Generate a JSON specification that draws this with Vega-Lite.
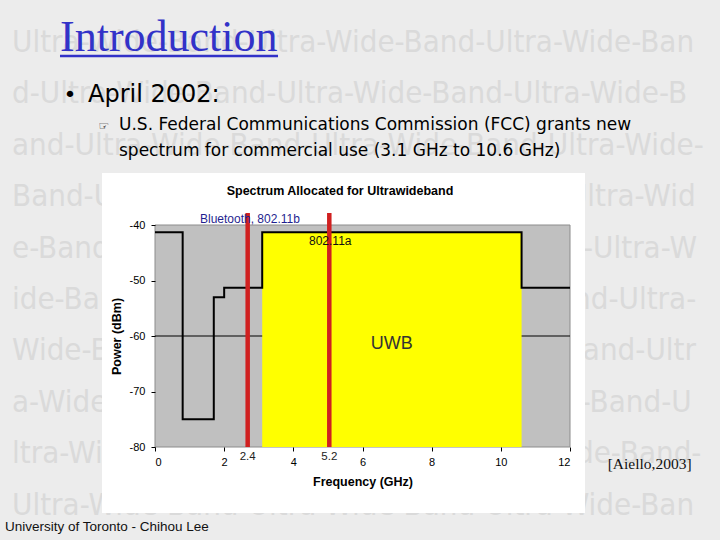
{
  "$schema": "https://vega.github.io/schema/vega-lite/v6.json",
  "width": 415,
  "height": 222,
  "autosize": {"type": "none"},
  "padding": {"left": 155, "top": 225, "right": 150, "bottom": 93},
  "background": "#ececec",
  "config": {"view": {"stroke": null}, "font": "Liberation Sans"},
  "datasets": {
    "watermark": [
      {"line": "Ultra-Wide-Band-Ultra-Wide-Band-Ultra-Wide-Ban", "f": -4.135, "p": -8.83},
      {"line": "d-Ultra-Wide-Band-Ultra-Wide-Band-Ultra-Wide-B", "f": -4.135, "p": -18.09},
      {"line": "and-Ultra-Wide-Band-Ultra-Wide-Band-Ultra-Wide-", "f": -4.135, "p": -27.37},
      {"line": "Band-Ultra-Wide-Band-Ultra-Wide-Band-Ultra-Wid", "f": -4.135, "p": -36.63},
      {"line": "e-Band-Ultra-Wide-Band-Ultra-Wide-Band-Ultra-W", "f": -4.135, "p": -45.89},
      {"line": "ide-Band-Ultra-Wide-Band-Ultra-Wide-Band-Ultra-", "f": -4.135, "p": -55.14},
      {"line": "Wide-Band-Ultra-Wide-Band-Ultra-Wide-Band-Ultr", "f": -4.135, "p": -64.4},
      {"line": "a-Wide-Band-Ultra-Wide-Band-Ultra-Wide-Band-U", "f": -4.135, "p": -73.68},
      {"line": "ltra-Wide-Band-Ultra-Wide-Band-Ultra-Wide-Band-", "f": -4.135, "p": -82.94},
      {"line": "Ultra-Wide-Band-Ultra-Wide-Band-Ultra-Wide-Ban", "f": -4.135, "p": -92.2}
    ],
    "panel": [{"f1": -1.533, "f2": 12.434, "p1": -91.89, "p2": -30.63}],
    "plotArea": [{"f1": 0, "f2": 12, "p1": -80, "p2": -40}],
    "gridline": [{"f1": 0, "f2": 12, "p": -60}],
    "uwb": [{"f1": 3.1, "f2": 10.6, "p1": -80, "p2": -41.3}],
    "mask": [
      {"frequency": 0, "power": -41.3},
      {"frequency": 0.8, "power": -75},
      {"frequency": 1.7, "power": -53},
      {"frequency": 2.0, "power": -51.3},
      {"frequency": 3.1, "power": -41.3},
      {"frequency": 10.6, "power": -51.3},
      {"frequency": 12, "power": -51.3}
    ],
    "bands": [
      {"band": "2.4", "f": 2.68, "p1": -80, "p2": -37.84, "lp": -82.34},
      {"band": "5.2", "f": 5.04, "p1": -80, "p2": -37.84, "lp": -82.34}
    ],
    "titleText": [{"text": "Introduction", "f": -2.747, "p": -8.65}],
    "titleUnderline": [{"f1": -2.747, "f2": 3.557, "p": -9.55}],
    "bullet": [{"text": "•", "f": -2.458, "p": -17.84}],
    "bulletText": [{"text": "April 2002:", "f": -1.937, "p": -17.84}],
    "subIcon": [{"text": "☞", "f": -1.475, "p": -22.88}],
    "subText": [
      {"text": "U.S. Federal Communications Commission (FCC) grants new", "f": -1.041, "p": -22.88},
      {"text": "spectrum for commercial use (3.1 GHz to 10.6 GHz)", "f": -1.041, "p": -27.57}
    ],
    "chartTitle": [{"text": "Spectrum Allocated for Ultrawideband", "f": 5.349, "p": -34.59}],
    "btLabel": [{"text": "Bluetooth, 802.11b", "f": 1.301, "p": -39.64}],
    "aLabel": [{"text": "802.11a", "f": 4.453, "p": -43.6}],
    "uwbLabel": [{"text": "UWB", "f": 6.845, "p": -62.34}],
    "footer": [{"text": "University of Toronto - Chihou Lee", "f": -4.337, "p": -95.14}],
    "cite": [{"text": "[Aiello,2003]", "f": 13.09, "p": -83.96}]
  },
  "layer": [
    {
      "data": {"name": "watermark"},
      "mark": {"type": "text", "font": "Liberation Sans Narrow, DejaVu Sans Condensed, sans-serif", "fontSize": 31, "color": "#dadada", "align": "left", "baseline": "alphabetic"},
      "encoding": {
        "x": {"field": "f", "type": "quantitative", "title": "Frequency (GHz)", "scale": {"domain": [0, 12], "nice": false, "zero": false},
          "axis": {"tickCount": 6, "zindex": 1, "domain": false, "grid": false, "labelFont": "Liberation Sans", "labelFontSize": 11, "labelColor": "#000", "tickColor": "#000", "tickSize": 4, "labelPadding": 5, "titleFont": "Liberation Sans", "titleFontSize": 12.5, "titleFontWeight": "bold", "titleColor": "#000", "titlePadding": 8}},
        "y": {"field": "p", "type": "quantitative", "title": "Power (dBm)", "scale": {"domain": [-80, -40], "nice": false, "zero": false},
          "axis": {"tickCount": 4, "zindex": 1, "domain": false, "grid": false, "labelExpr": "toString(datum.value)", "labelFont": "Liberation Sans", "labelFontSize": 11, "labelColor": "#000", "tickColor": "#000", "tickSize": 4, "labelPadding": 6, "titleFont": "Liberation Sans", "titleFontSize": 12.5, "titleFontWeight": "bold", "titleColor": "#000", "titlePadding": 6}},
        "text": {"field": "line"}
      }
    },
    {
      "data": {"name": "panel"},
      "mark": {"type": "rect", "fill": "#ffffff"},
      "encoding": {
        "x": {"field": "f1", "type": "quantitative", "title": "Frequency (GHz)", "scale": {"domain": [0, 12], "nice": false, "zero": false}},
        "x2": {"field": "f2"},
        "y": {"field": "p1", "type": "quantitative", "title": "Power (dBm)", "scale": {"domain": [-80, -40], "nice": false, "zero": false}},
        "y2": {"field": "p2"}
      }
    },
    {
      "data": {"name": "plotArea"},
      "mark": {"type": "rect", "fill": "#c0c0c0", "stroke": "#8c8c8c", "strokeWidth": 1},
      "encoding": {
        "x": {"field": "f1", "type": "quantitative", "title": "Frequency (GHz)", "scale": {"domain": [0, 12], "nice": false, "zero": false}},
        "x2": {"field": "f2"},
        "y": {"field": "p1", "type": "quantitative", "title": "Power (dBm)", "scale": {"domain": [-80, -40], "nice": false, "zero": false}},
        "y2": {"field": "p2"}
      }
    },
    {
      "data": {"name": "gridline"},
      "mark": {"type": "rule", "color": "#000000", "strokeWidth": 1},
      "encoding": {
        "x": {"field": "f1", "type": "quantitative", "title": "Frequency (GHz)", "scale": {"domain": [0, 12], "nice": false, "zero": false}},
        "x2": {"field": "f2"},
        "y": {"field": "p", "type": "quantitative", "title": "Power (dBm)", "scale": {"domain": [-80, -40], "nice": false, "zero": false}}
      }
    },
    {
      "data": {"name": "uwb"},
      "mark": {"type": "rect", "fill": "#ffff00"},
      "encoding": {
        "x": {"field": "f1", "type": "quantitative", "title": "Frequency (GHz)", "scale": {"domain": [0, 12], "nice": false, "zero": false}},
        "x2": {"field": "f2"},
        "y": {"field": "p1", "type": "quantitative", "title": "Power (dBm)", "scale": {"domain": [-80, -40], "nice": false, "zero": false}},
        "y2": {"field": "p2"}
      }
    },
    {
      "data": {"name": "mask"},
      "mark": {"type": "line", "interpolate": "step-after", "color": "#000000", "strokeWidth": 2},
      "encoding": {
        "x": {"field": "frequency", "type": "quantitative", "title": "Frequency (GHz)", "scale": {"domain": [0, 12], "nice": false, "zero": false}},
        "y": {"field": "power", "type": "quantitative", "title": "Power (dBm)", "scale": {"domain": [-80, -40], "nice": false, "zero": false}}
      }
    },
    {
      "data": {"name": "bands"},
      "mark": {"type": "rule", "color": "#d02020", "strokeWidth": 4.5},
      "encoding": {
        "x": {"field": "f", "type": "quantitative", "title": "Frequency (GHz)", "scale": {"domain": [0, 12], "nice": false, "zero": false}},
        "y": {"field": "p1", "type": "quantitative", "title": "Power (dBm)", "scale": {"domain": [-80, -40], "nice": false, "zero": false}},
        "y2": {"field": "p2"}
      }
    },
    {
      "data": {"name": "bands"},
      "mark": {"type": "text", "font": "Liberation Sans", "fontSize": 11.5, "color": "#222", "align": "center", "baseline": "alphabetic"},
      "encoding": {
        "x": {"field": "f", "type": "quantitative", "title": "Frequency (GHz)", "scale": {"domain": [0, 12], "nice": false, "zero": false}},
        "y": {"field": "lp", "type": "quantitative", "title": "Power (dBm)", "scale": {"domain": [-80, -40], "nice": false, "zero": false}},
        "text": {"field": "band"}
      }
    },
    {
      "data": {"name": "btLabel"},
      "mark": {"type": "text", "font": "Liberation Sans", "fontSize": 12, "color": "#1f1f8f", "align": "left", "baseline": "alphabetic"},
      "encoding": {
        "x": {"field": "f", "type": "quantitative", "title": "Frequency (GHz)", "scale": {"domain": [0, 12], "nice": false, "zero": false}},
        "y": {"field": "p", "type": "quantitative", "title": "Power (dBm)", "scale": {"domain": [-80, -40], "nice": false, "zero": false}},
        "text": {"field": "text"}
      }
    },
    {
      "data": {"name": "aLabel"},
      "mark": {"type": "text", "font": "Liberation Sans", "fontSize": 12, "color": "#111", "align": "left", "baseline": "alphabetic"},
      "encoding": {
        "x": {"field": "f", "type": "quantitative", "title": "Frequency (GHz)", "scale": {"domain": [0, 12], "nice": false, "zero": false}},
        "y": {"field": "p", "type": "quantitative", "title": "Power (dBm)", "scale": {"domain": [-80, -40], "nice": false, "zero": false}},
        "text": {"field": "text"}
      }
    },
    {
      "data": {"name": "uwbLabel"},
      "mark": {"type": "text", "font": "Liberation Sans", "fontSize": 18, "color": "#333", "align": "center", "baseline": "alphabetic"},
      "encoding": {
        "x": {"field": "f", "type": "quantitative", "title": "Frequency (GHz)", "scale": {"domain": [0, 12], "nice": false, "zero": false}},
        "y": {"field": "p", "type": "quantitative", "title": "Power (dBm)", "scale": {"domain": [-80, -40], "nice": false, "zero": false}},
        "text": {"field": "text"}
      }
    },
    {
      "data": {"name": "chartTitle"},
      "mark": {"type": "text", "font": "Liberation Sans", "fontSize": 12.5, "fontWeight": "bold", "color": "#000", "align": "center", "baseline": "alphabetic"},
      "encoding": {
        "x": {"field": "f", "type": "quantitative", "title": "Frequency (GHz)", "scale": {"domain": [0, 12], "nice": false, "zero": false}},
        "y": {"field": "p", "type": "quantitative", "title": "Power (dBm)", "scale": {"domain": [-80, -40], "nice": false, "zero": false}},
        "text": {"field": "text"}
      }
    },
    {
      "data": {"name": "titleText"},
      "mark": {"type": "text", "font": "Liberation Serif", "fontSize": 44, "color": "#3232c8", "align": "left", "baseline": "alphabetic"},
      "encoding": {
        "x": {"field": "f", "type": "quantitative", "title": "Frequency (GHz)", "scale": {"domain": [0, 12], "nice": false, "zero": false}},
        "y": {"field": "p", "type": "quantitative", "title": "Power (dBm)", "scale": {"domain": [-80, -40], "nice": false, "zero": false}},
        "text": {"field": "text"}
      }
    },
    {
      "data": {"name": "titleUnderline"},
      "mark": {"type": "rule", "color": "#3232c8", "strokeWidth": 2.5},
      "encoding": {
        "x": {"field": "f1", "type": "quantitative", "title": "Frequency (GHz)", "scale": {"domain": [0, 12], "nice": false, "zero": false}},
        "x2": {"field": "f2"},
        "y": {"field": "p", "type": "quantitative", "title": "Power (dBm)", "scale": {"domain": [-80, -40], "nice": false, "zero": false}}
      }
    },
    {
      "data": {"name": "bullet"},
      "mark": {"type": "text", "font": "DejaVu Sans", "fontSize": 22, "color": "#000", "align": "center", "baseline": "alphabetic"},
      "encoding": {
        "x": {"field": "f", "type": "quantitative", "title": "Frequency (GHz)", "scale": {"domain": [0, 12], "nice": false, "zero": false}},
        "y": {"field": "p", "type": "quantitative", "title": "Power (dBm)", "scale": {"domain": [-80, -40], "nice": false, "zero": false}},
        "text": {"field": "text"}
      }
    },
    {
      "data": {"name": "bulletText"},
      "mark": {"type": "text", "font": "DejaVu Sans", "fontSize": 24, "color": "#000", "align": "left", "baseline": "alphabetic"},
      "encoding": {
        "x": {"field": "f", "type": "quantitative", "title": "Frequency (GHz)", "scale": {"domain": [0, 12], "nice": false, "zero": false}},
        "y": {"field": "p", "type": "quantitative", "title": "Power (dBm)", "scale": {"domain": [-80, -40], "nice": false, "zero": false}},
        "text": {"field": "text"}
      }
    },
    {
      "data": {"name": "subIcon"},
      "mark": {"type": "text", "font": "DejaVu Sans", "fontSize": 12, "color": "#000", "align": "center", "baseline": "alphabetic"},
      "encoding": {
        "x": {"field": "f", "type": "quantitative", "title": "Frequency (GHz)", "scale": {"domain": [0, 12], "nice": false, "zero": false}},
        "y": {"field": "p", "type": "quantitative", "title": "Power (dBm)", "scale": {"domain": [-80, -40], "nice": false, "zero": false}},
        "text": {"field": "text"}
      }
    },
    {
      "data": {"name": "subText"},
      "mark": {"type": "text", "font": "DejaVu Sans", "fontSize": 17, "color": "#000", "align": "left", "baseline": "alphabetic"},
      "encoding": {
        "x": {"field": "f", "type": "quantitative", "title": "Frequency (GHz)", "scale": {"domain": [0, 12], "nice": false, "zero": false}},
        "y": {"field": "p", "type": "quantitative", "title": "Power (dBm)", "scale": {"domain": [-80, -40], "nice": false, "zero": false}},
        "text": {"field": "text"}
      }
    },
    {
      "data": {"name": "footer"},
      "mark": {"type": "text", "font": "Liberation Sans", "fontSize": 13.5, "color": "#111", "align": "left", "baseline": "alphabetic"},
      "encoding": {
        "x": {"field": "f", "type": "quantitative", "title": "Frequency (GHz)", "scale": {"domain": [0, 12], "nice": false, "zero": false}},
        "y": {"field": "p", "type": "quantitative", "title": "Power (dBm)", "scale": {"domain": [-80, -40], "nice": false, "zero": false}},
        "text": {"field": "text"}
      }
    },
    {
      "data": {"name": "cite"},
      "mark": {"type": "text", "font": "Liberation Serif", "fontSize": 15.5, "color": "#111", "align": "left", "baseline": "alphabetic"},
      "encoding": {
        "x": {"field": "f", "type": "quantitative", "title": "Frequency (GHz)", "scale": {"domain": [0, 12], "nice": false, "zero": false}},
        "y": {"field": "p", "type": "quantitative", "title": "Power (dBm)", "scale": {"domain": [-80, -40], "nice": false, "zero": false}},
        "text": {"field": "text"}
      }
    }
  ]
}
